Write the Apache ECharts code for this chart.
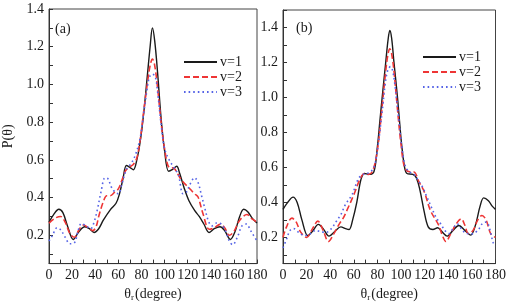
<!DOCTYPE html>
<html>
<head>
<meta charset="utf-8">
<script src="https://cdn.jsdelivr.net/npm/echarts@6/dist/echarts.min.js"></script>
<style>
  html, body { margin: 0; padding: 0; background: #fff; }
  #chart { width: 509px; height: 307px; }
</style>
</head>
<body>
<div id="chart"></div>
<script>
// tick labels
const xTicks = [0, 20, 40, 60, 80, 100, 120, 140, 160, 180];
const yLabels = [0.2, 0.4, 0.6, 0.8, 1.0, 1.2, 1.4];
const yTicksA = [0.1, 0.2, 0.3, 0.4, 0.5, 0.6, 0.7, 0.8, 0.9, 1.0, 1.1, 1.2, 1.3, 1.4];
const yTicksB = [0.1, 0.2, 0.3, 0.4, 0.5, 0.6, 0.7, 0.8, 0.9, 1.0, 1.1, 1.2, 1.3, 1.4, 1.5];
const names = ["v=1", "v=2", "v=3"];

// panel (a)
const aAng1 = [0, 4, 8.5, 12, 16, 21, 26, 31, 35, 39, 43, 47, 53, 58, 61, 64, 67, 70, 73, 76, 79, 82, 85, 87.5, 89.5, 91.5, 94, 97, 100, 103.5, 107, 110.5, 113, 117, 121, 126, 130, 134, 138.5, 143, 148, 152, 157, 161, 165, 168.5, 172, 176, 180];
const aVal1 = [0.27, 0.31, 0.338, 0.32, 0.25, 0.178, 0.22, 0.245, 0.235, 0.215, 0.235, 0.28, 0.335, 0.37, 0.42, 0.5, 0.57, 0.56, 0.548, 0.6, 0.7, 0.85, 1.04, 1.2, 1.3, 1.23, 1.06, 0.82, 0.65, 0.54, 0.55, 0.566, 0.53, 0.45, 0.385, 0.332, 0.3, 0.26, 0.215, 0.235, 0.245, 0.225, 0.178, 0.22, 0.3, 0.338, 0.325, 0.29, 0.265];
const aAng2 = [0, 5, 10, 14, 18, 22, 26, 30, 34, 38, 41, 43, 47, 50, 53, 57, 60, 63, 66, 69, 72.7, 76, 79, 82, 85, 87.5, 89.5, 91.5, 94, 97, 100, 104, 108, 111, 115, 120.6, 126, 129, 133, 138.8, 143, 148, 152, 156, 160, 164, 168, 171.3, 175, 180];
const aVal2 = [0.265, 0.29, 0.3, 0.27, 0.21, 0.19, 0.23, 0.255, 0.24, 0.225, 0.25, 0.3, 0.378, 0.41, 0.41, 0.43, 0.446, 0.49, 0.54, 0.56, 0.574, 0.61, 0.71, 0.86, 1.0, 1.1, 1.135, 1.1, 0.98, 0.8, 0.66, 0.56, 0.557, 0.53, 0.49, 0.455, 0.42, 0.403, 0.32, 0.232, 0.24, 0.258, 0.24, 0.2, 0.22, 0.27, 0.3, 0.31, 0.29, 0.27];
const aAng3 = [0, 3, 7, 10, 14, 18, 22, 25, 28, 32, 36, 39, 42, 45, 48.5, 51, 54, 57, 60, 63, 67, 71, 75, 79, 82, 85, 87, 89.5, 92, 94, 97, 100, 104, 108, 112, 116, 119, 122, 126, 129, 132, 135, 138, 141, 145, 149, 153, 156, 159, 163, 167, 171, 174, 177, 180];
const aVal3 = [0.17, 0.2, 0.24, 0.23, 0.19, 0.155, 0.16, 0.22, 0.262, 0.25, 0.235, 0.27, 0.34, 0.43, 0.505, 0.5, 0.455, 0.43, 0.42, 0.47, 0.55, 0.58, 0.63, 0.72, 0.85, 0.98, 1.04, 1.055, 1.04, 0.96, 0.79, 0.66, 0.6, 0.56, 0.52, 0.42, 0.43, 0.47, 0.505, 0.48, 0.41, 0.34, 0.275, 0.25, 0.265, 0.26, 0.22, 0.17, 0.15, 0.19, 0.25, 0.26, 0.23, 0.2, 0.17];

// panel (b)
const bAng1 = [0, 4, 8.5, 12, 16, 21, 25, 30, 34, 39, 44, 49, 53, 56, 59, 62.5, 66, 69, 73, 77, 80, 82, 84, 87, 89, 90.5, 92, 94, 97, 99, 100.5, 103, 105, 110, 113, 116, 119.5, 123, 127, 131, 135, 139, 144, 149, 154, 159, 163, 167, 170, 174, 177, 180];
const bVal1 = [0.36, 0.4, 0.43, 0.4, 0.3, 0.21, 0.235, 0.274, 0.25, 0.207, 0.235, 0.26, 0.25, 0.245, 0.3, 0.4, 0.53, 0.565, 0.56, 0.575, 0.72, 0.86, 1.0, 1.2, 1.33, 1.383, 1.34, 1.2, 1.0, 0.84, 0.73, 0.6, 0.565, 0.56, 0.54, 0.47, 0.35, 0.26, 0.245, 0.255, 0.23, 0.207, 0.24, 0.268, 0.24, 0.213, 0.27, 0.38, 0.426, 0.41, 0.38, 0.36];
const bAng2 = [0, 3, 7.5, 11, 15, 20, 25, 29.5, 34, 38.5, 43, 48, 51, 54.5, 60, 65.5, 69, 72.5, 76, 80, 84, 87, 89, 90.5, 92, 94, 97, 100, 103, 107, 111, 115, 119.5, 125, 132, 135, 138, 142, 147, 151, 154, 157, 161, 165, 168.5, 172, 176, 180];
const bVal2 = [0.2, 0.26, 0.31, 0.29, 0.23, 0.2, 0.25, 0.293, 0.24, 0.176, 0.22, 0.28, 0.31, 0.36, 0.444, 0.537, 0.565, 0.56, 0.58, 0.7, 0.95, 1.15, 1.25, 1.278, 1.25, 1.15, 0.93, 0.73, 0.6, 0.575, 0.574, 0.52, 0.463, 0.352, 0.268, 0.21, 0.176, 0.22, 0.28, 0.306, 0.27, 0.222, 0.24, 0.3, 0.325, 0.3, 0.22, 0.2];
const bAng3 = [0, 3, 6, 9, 13, 18, 23, 28, 33, 37, 41, 45, 49, 53, 58.5, 64, 68, 73, 77, 80, 84, 87, 89, 91, 93, 95, 98, 101, 104, 108, 111.5, 115, 118, 122, 126.5, 130, 133.5, 137, 140.5, 144, 147.5, 151, 155.5, 160, 165, 169, 172.5, 175, 178, 180];
const bVal3 = [0.14, 0.19, 0.24, 0.25, 0.23, 0.21, 0.22, 0.24, 0.23, 0.23, 0.25, 0.29, 0.33, 0.39, 0.444, 0.537, 0.56, 0.57, 0.6, 0.7, 0.92, 1.1, 1.16, 1.176, 1.15, 1.06, 0.88, 0.7, 0.6, 0.57, 0.556, 0.52, 0.49, 0.43, 0.36, 0.31, 0.278, 0.24, 0.222, 0.25, 0.278, 0.25, 0.222, 0.22, 0.24, 0.28, 0.287, 0.25, 0.17, 0.15];

const FONT = "Liberation Serif";
const INK = "#1a1a1a";
const styles = [
  { color: "#1a1a1a", type: "solid", width: 1.4 },
  { color: "#ee3535", type: [6, 3], width: 1.6 },
  { color: "#5563e6", type: [1.6, 3], width: 1.6 },
];

function pairs(xs, ys) {
  return xs.map((x, i) => [x, ys[i]]);
}

function xAxis(gi) {
  return {
    type: "value", gridIndex: gi, min: 0, max: 180, interval: 20,
    name: "{t|θ}{s|r}{t|(degree)}", nameLocation: "middle", nameGap: 23,
    nameTextStyle: { rich: {
      t: { fontFamily: FONT, fontSize: 14, color: INK },
      s: { fontFamily: FONT, fontSize: 9, color: INK, verticalAlign: "bottom", padding: [6, 1, 0, 0] },
    } },
    axisLine: { lineStyle: { color: "#333", width: 1 } },
    axisTick: { inside: true, length: 4, lineStyle: { color: "#333" } },
    minorTick: { show: true, splitNumber: 2, length: 4, lineStyle: { color: "#333" } },
    axisLabel: { fontFamily: FONT, fontSize: 14, color: INK, margin: 5, hideOverlap: false },
    splitLine: { show: false },
  };
}

function yAxis(gi, max, ticks, withName) {
  return {
    type: "value", gridIndex: gi, min: 0.05, max: max,
    name: withName ? "P(θ)" : "", nameLocation: "middle", nameGap: 34,
    nameTextStyle: { fontFamily: FONT, fontSize: 14, color: INK },
    axisLine: { show: true, lineStyle: { color: "#333", width: 1 } },
    axisTick: { show: true, inside: true, length: 4, customValues: ticks, lineStyle: { color: "#333" } },
    axisLabel: { fontFamily: FONT, fontSize: 14, color: INK, margin: 5, customValues: yLabels,
      formatter: (v) => v.toFixed(1) },
    splitLine: { show: false },
  };
}

function series(gi, idx, xs, ys) {
  return {
    name: names[idx], type: "line", xAxisIndex: gi, yAxisIndex: gi,
    data: pairs(xs, ys), smooth: 0.35, showSymbol: false, symbol: "none",
    lineStyle: styles[idx], itemStyle: { color: styles[idx].color },
    emphasis: { disabled: true }, silent: true,
  };
}

function legend(left, top) {
  return {
    data: names, orient: "vertical", left: left, top: top,
    itemWidth: 33, itemHeight: 14, itemGap: 1, selectedMode: false,
    itemStyle: { opacity: 0 },
    textStyle: { fontFamily: FONT, fontSize: 14, color: INK, padding: [0, 0, 0, -2] },
  };
}

function panelLabel(text, x, y) {
  return {
    type: "text", x: x, y: y, silent: true,
    style: { text: text, fontFamily: FONT, fontSize: 14, fill: INK, textVerticalAlign: "middle" },
  };
}

const chart = echarts.init(document.getElementById("chart"));
chart.setOption({
  animation: false,
  backgroundColor: "#fff",
  grid: [
    { left: 44, top: 9, width: 213, bottom: 36, show: true, borderColor: "#444", borderWidth: 1 },
    { left: 283, top: 10, width: 216, bottom: 36, show: true, borderColor: "#444", borderWidth: 1 },
  ],
  graphic: [panelLabel("(a)", 55, 29), panelLabel("(b)", 296, 28)],
  legend: [legend(178, 50), legend(417, 45)],
  xAxis: [xAxis(0), xAxis(1)],
  yAxis: [yAxis(0, 1.4, yTicksA, true), yAxis(1, 1.5, yTicksB, false)],
  series: [
    series(0, 0, aAng1, aVal1),
    series(0, 1, aAng2, aVal2),
    series(0, 2, aAng3, aVal3),
    series(1, 0, bAng1, bVal1),
    series(1, 1, bAng2, bVal2),
    series(1, 2, bAng3, bVal3),
  ],
});
</script>
</body>
</html>
